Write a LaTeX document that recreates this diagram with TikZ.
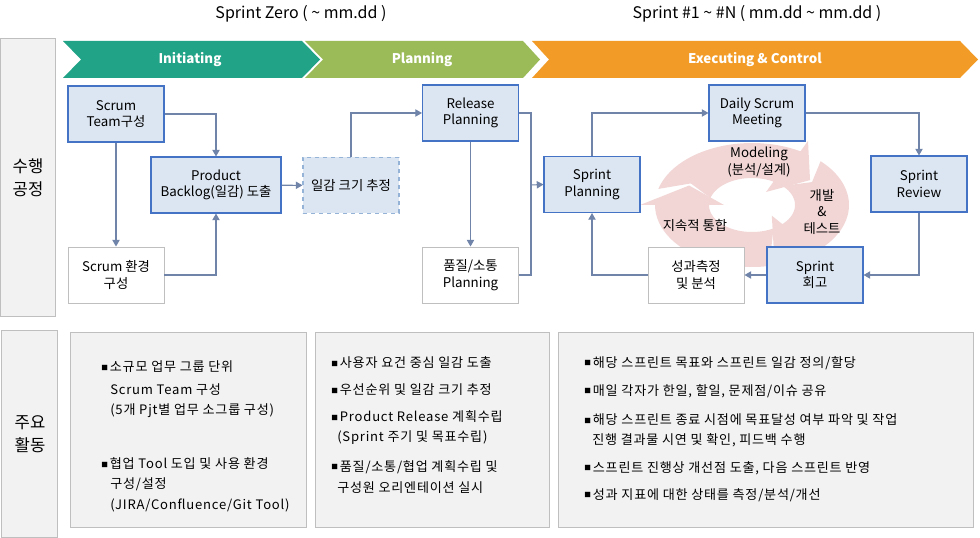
\documentclass[tikz,border=0pt]{standalone}
\usepackage{fontspec}
\setmainfont{Noto Sans CJK KR}
\newfontfamily\actfont[LetterSpace=6]{Noto Sans CJK KR}
\usepackage{xcolor}
\usepackage{tikz}
\usetikzlibrary{arrows.meta,positioning}
\tikzset{>=stealth}

\definecolor{initgreen}{RGB}{33,163,135}
\definecolor{plangreen}{RGB}{155,187,89}
\definecolor{execorange}{RGB}{242,156,39}
\definecolor{boxfill}{RGB}{220,230,242}
\definecolor{boxline}{RGB}{68,114,196}
\definecolor{dashline}{RGB}{149,179,215}
\definecolor{plainline}{RGB}{191,191,191}
\definecolor{flowline}{RGB}{111,132,168}
\definecolor{panelfill}{RGB}{242,242,242}
\definecolor{cyclepink}{RGB}{242,214,214}
\newcommand{\blt}{\raisebox{1.3pt}{\fontsize{5pt}{5pt}\selectfont ■}\hspace{1.5pt}}

\begin{document}
\begin{tikzpicture}[x=0.75pt, y=-0.75pt, every node/.style={font=\fontsize{10}{12.5}\selectfont},
  procbox/.style={draw=boxline, line width=0.8pt, fill=boxfill, minimum width=72pt, minimum height=42pt, align=center, inner sep=2pt},
  plainbox/.style={draw=plainline, line width=0.7pt, fill=white, minimum width=72pt, minimum height=42pt, align=center, inner sep=2pt},
  guessbox/.style={draw=dashline, dashed, line width=0.8pt, fill=boxfill, minimum width=72pt, minimum height=42pt, align=center, inner sep=2pt},
  flow/.style={draw=flowline, line width=0.8pt, -{Triangle[length=5pt,width=5.5pt]}},
  joinline/.style={draw=flowline, line width=0.8pt},
  panel/.style={draw=plainline, line width=0.7pt, fill=panelfill},
  phase/.style={text=white, font=\fontsize{10}{12}\selectfont\bfseries},
  sidelabel/.style={align=center, font=\fontsize{12.5}{17}\selectfont},
  actline/.style={anchor=west, inner sep=0pt, font=\actfont\fontsize{9.8}{12}\selectfont},
  cyclearrow/.style={fill=cyclepink, draw=none}]
  \useasboundingbox (0,0) rectangle (980,538);

  % Sprint titles
  \node (zerotitle) at (301,14) {\fontsize{12}{14}\selectfont Sprint Zero ( \textasciitilde\ mm.dd )};
  \node (runtitle) at (757,14) {\fontsize{12}{14}\selectfont Sprint \#1 \textasciitilde\ \#N ( mm.dd \textasciitilde\ mm.dd )};

  % Side labels
  \draw[panel] (0.5,38) rectangle (55,316);
  \node[sidelabel] (proclabel) at (28,178) {수행\\공정};
  \draw[panel] (1,330) rectangle (57,537);
  \node[sidelabel] (actlabel) at (30,434) {주요\\활동};

  % Phase chevrons
  \fill[initgreen] (63,41) -- (302,41) -- (320,59.5) -- (302,78) -- (63,78) -- (81,59.5) -- cycle;
  \fill[plangreen] (305,41) -- (523,41) -- (540,59.5) -- (523,78) -- (305,78) -- (323,59.5) -- cycle;
  \fill[execorange] (532,41) -- (960,41) -- (978,59.5) -- (960,78) -- (532,78) -- (549,59.5) -- cycle;
  \node[phase] (initiating) at (190,60) {Initiating};
  \node[phase] (planning) at (422,60) {Planning};
  \node[phase] (executing) at (755,60) {Executing \& Control};

  % Iteration cycle behind the sprint loop
  \fill[cyclearrow] ({752+70*cos(209)},{205+44.5*sin(209)})
    -- plot[domain=195:300, samples=30] ({752+97*cos(\x)},{205+62*sin(\x)})
    -- ({752+112*cos(300)},{205+74*sin(300)}) -- ({752+70*cos(326)},{205+44.5*sin(326)})
    -- ({752+28*cos(300)},{205+15*sin(300)})
    -- plot[domain=300:195, samples=30] ({752+43*cos(\x)},{205+27*sin(\x)}) -- cycle;
  \fill[cyclearrow] ({752+70*cos(329)},{205+44.5*sin(329)})
    -- plot[domain=315:405, samples=30] ({752+97*cos(\x)},{205+62*sin(\x)})
    -- ({752+112*cos(405)},{205+74*sin(405)}) -- ({752+70*cos(432)},{205+44.5*sin(432)})
    -- ({752+28*cos(405)},{205+15*sin(405)})
    -- plot[domain=405:315, samples=30] ({752+43*cos(\x)},{205+27*sin(\x)}) -- cycle;
  \fill[cyclearrow] ({752+70*cos(74)},{205+44.5*sin(74)})
    -- plot[domain=60:180, samples=30] ({752+97*cos(\x)},{205+62*sin(\x)})
    -- ({752+112*cos(180)},{205+74*sin(180)}) -- ({752+70*cos(206)},{205+44.5*sin(206)})
    -- ({752+28*cos(180)},{205+15*sin(180)})
    -- plot[domain=180:60, samples=30] ({752+43*cos(\x)},{205+27*sin(\x)}) -- cycle;
  \node[align=center] (modeling) at (759,162) {Modeling\\(분석/설계)};
  \node[align=center] (devtest) at (822,212) {개발\\\&\\테스트};
  \node (integrate) at (695,225) {지속적 통합};

  % Sprint Zero boxes
  \node[procbox] (team) at (116,114) {Scrum\\Team구성};
  \node[procbox, minimum width=97.5pt] (backlog) at (216,185) {Product\\Backlog(일감) 도출};
  \node[plainbox] (env) at (116,275) {Scrum 환경\\구성};
  \node[guessbox] (size) at (351,185.5) {일감 크기 추정};
  \node[procbox] (release) at (470.5,113) {Release\\Planning};
  \node[plainbox] (quality) at (470.5,275) {품질/소통\\Planning};

  % Sprint #1..#N boxes
  \node[procbox] (splan) at (592,184.5) {Sprint\\Planning};
  \node[procbox] (daily) at (757,113) {Daily Scrum\\Meeting};
  \node[procbox] (review) at (919,184) {Sprint\\Review};
  \node[procbox] (retro) at (815,275) {Sprint\\회고};
  \node[plainbox] (measure) at (696,275) {성과측정\\및 분석};

  % Connectors
  \draw[flow] (team.east) -| (backlog.north);
  \draw[flow] (team.south) -- (env.north);
  \draw[flow] (env.east) -| (backlog.south);
  \draw[flow] (backlog) -- (size);
  \draw[flow] (size.north) |- (release.west);
  \draw[flow] (release) -- (quality);
  \coordinate (join) at (531,185);
  \draw[joinline] (release.east) -| (join) |- (quality.east);
  \draw[flow] (join) -- (splan.west);
  \draw[flow] (splan.north) |- (daily.west);
  \draw[flow] (daily.east) -| (review.north);
  \draw[flow] (review.south) |- (retro.east);
  \draw[flow] (retro) -- (measure);
  \draw[flow] (measure.west) -| (splan.south);

  % Main activities
  \draw[panel] (70,332) rectangle (306,527);
  \draw[panel] (315,332) rectangle (549,527);
  \draw[panel] (558,332) rectangle (973,527);

  \node[actline] (z1) at (101,367) {\blt 소규모 업무 그룹 단위};
  \node[actline] (z2) at (110,390) {Scrum Team 구성};
  \node[actline] (z3) at (110,411) {(5개 Pjt별 업무 소그룹 구성)};
  \node[actline] (z4) at (101,464) {\blt 협업 Tool 도입 및 사용 환경};
  \node[actline] (z5) at (110,484) {구성/설정};
  \node[actline] (z6) at (110,505) {(JIRA/Confluence/Git Tool)};

  \node[actline] (p1) at (331,363) {\blt 사용자 요건 중심 일감 도출};
  \node[actline] (p2) at (331,390) {\blt 우선순위 및 일감 크기 추정};
  \node[actline] (p3) at (331,417) {\blt Product Release 계획수립};
  \node[actline] (p4) at (337,438) {(Sprint 주기 및 목표수립)};
  \node[actline] (p5) at (331,467) {\blt 품질/소통/협업 계획수립 및};
  \node[actline] (p6) at (337,488) {구성원 오리엔테이션 실시};

  \node[actline] (e1) at (584,363) {\blt 해당 스프린트 목표와 스프린트 일감 정의/할당};
  \node[actline] (e2) at (584,391) {\blt 매일 각자가 한일, 할일, 문제점/이슈 공유};
  \node[actline] (e3) at (584,420) {\blt 해당 스프린트 종료 시점에 목표달성 여부 파악 및 작업};
  \node[actline] (e4) at (592,440) {진행 결과물 시연 및 확인, 피드백 수행};
  \node[actline] (e5) at (584,468) {\blt 스프린트 진행상 개선점 도출, 다음 스프린트 반영};
  \node[actline] (e6) at (584,495) {\blt 성과 지표에 대한 상태를 측정/분석/개선};
\end{tikzpicture}
\end{document}
